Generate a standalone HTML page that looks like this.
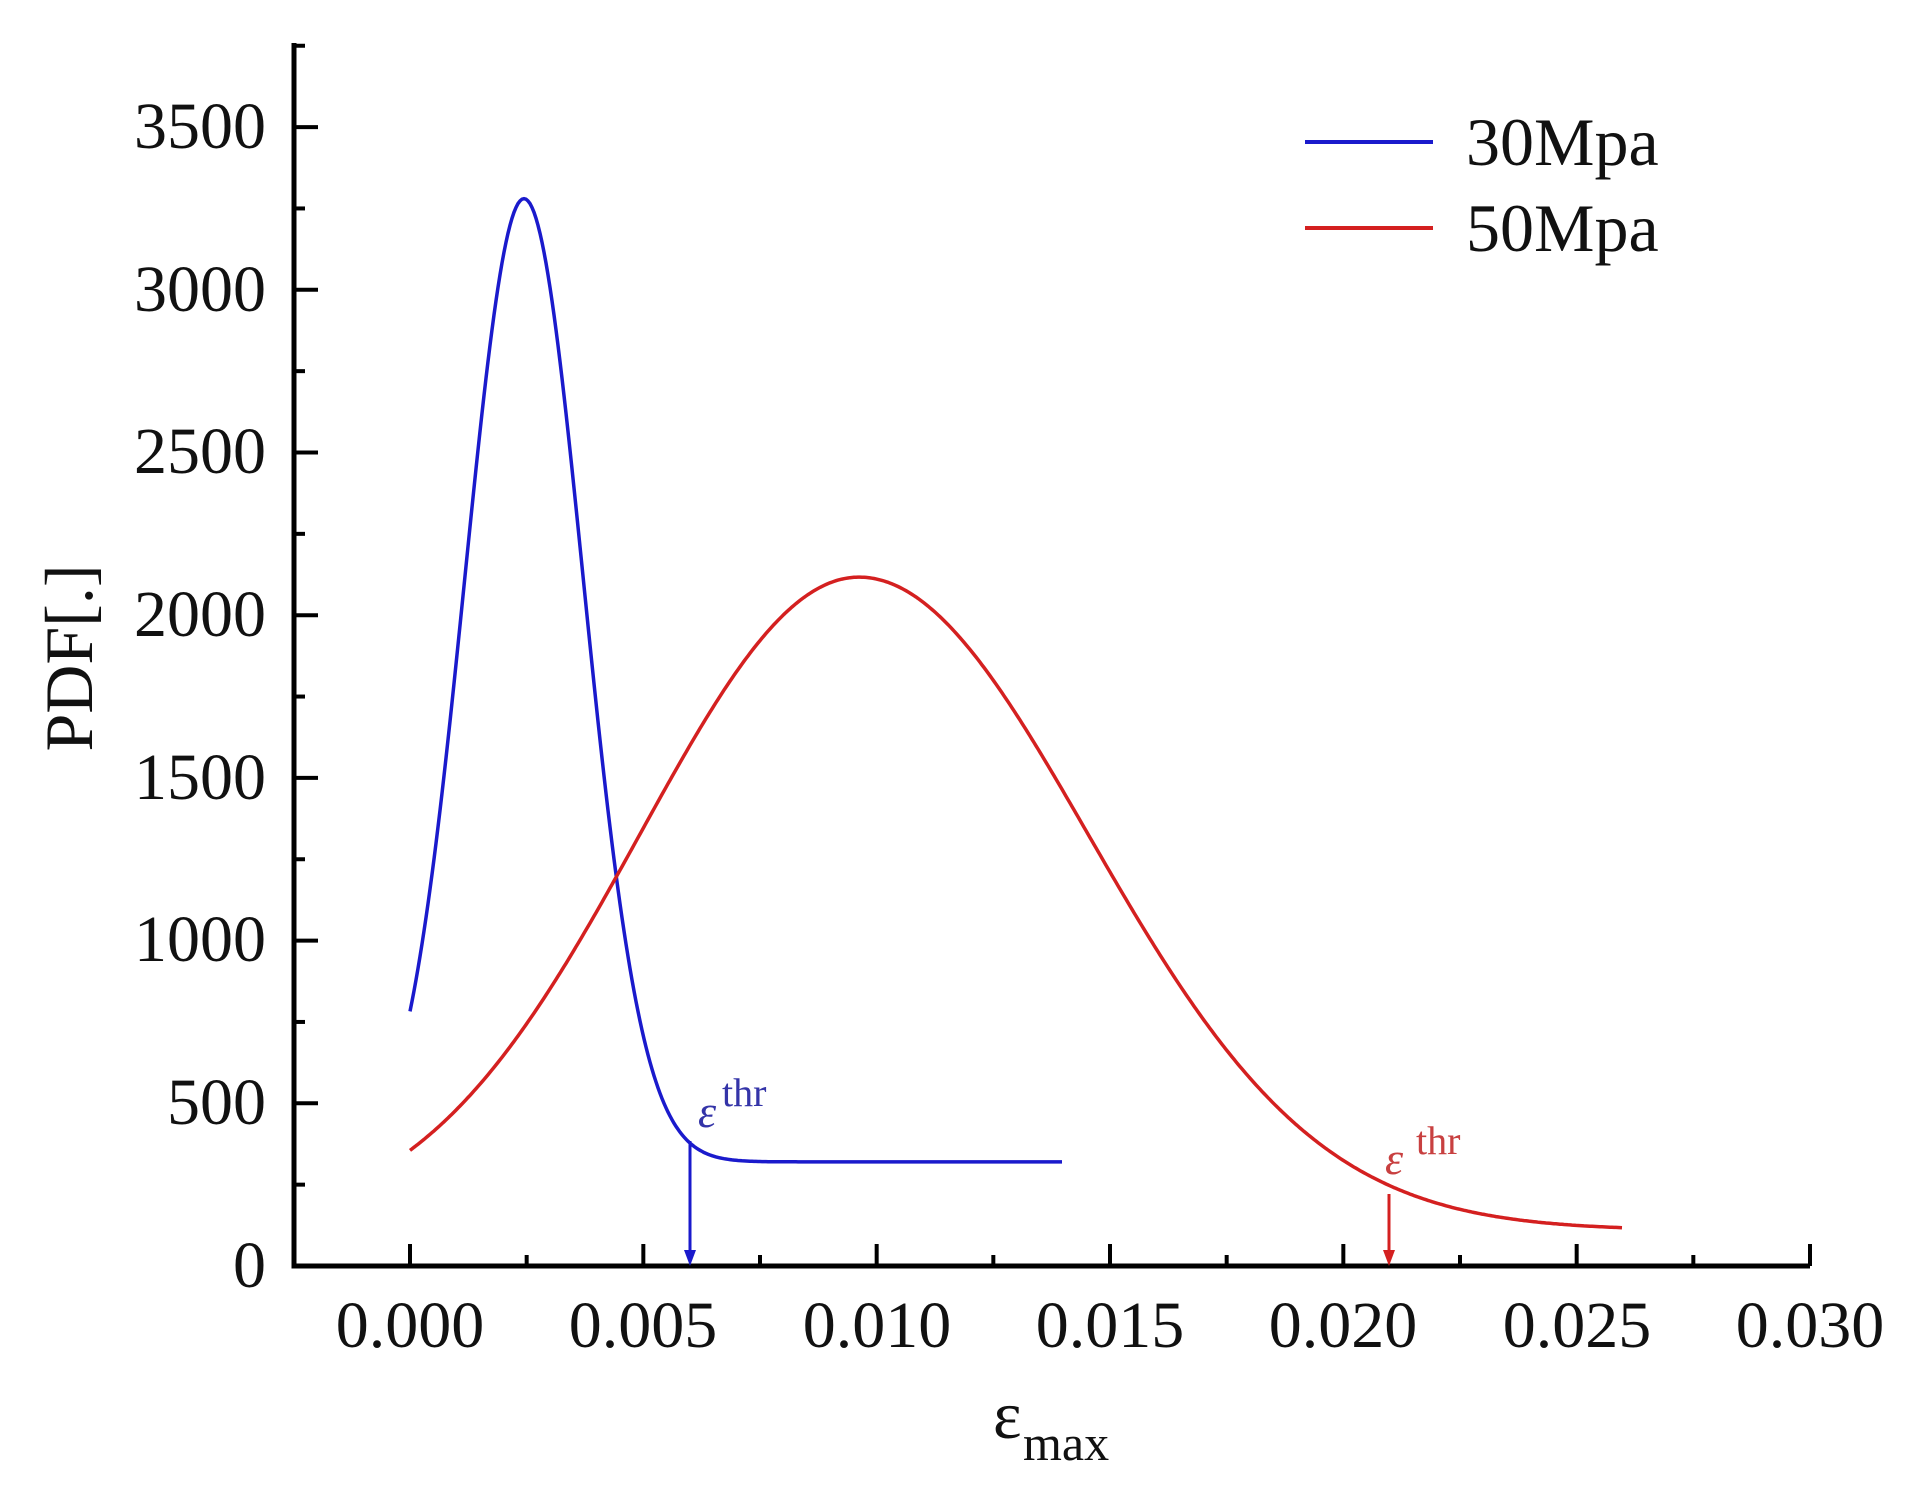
<!DOCTYPE html>
<html><head><meta charset="utf-8"><style>html,body{margin:0;padding:0;background:#fff}svg{display:block}</style></head>
<body>
<svg id="s" width="1920" height="1504" viewBox="0 0 1920 1504" xmlns="http://www.w3.org/2000/svg" font-family="Liberation Serif, serif">
<rect width="1920" height="1504" fill="#fff"/>
<g stroke="#000" stroke-width="5" fill="none">
<path d="M294 43 V1266 H1810"/>
</g>
<g id="ticks" stroke="#000" stroke-width="4"></g>
<g font-size="66" fill="#111" text-anchor="end">
<text x="266" y="1287">0</text>
<text x="266" y="1124">500</text>
<text x="266" y="961">1000</text>
<text x="266" y="799">1500</text>
<text x="266" y="636">2000</text>
<text x="266" y="473">2500</text>
<text x="266" y="311">3000</text>
<text x="266" y="148">3500</text>
</g>
<g font-size="66" fill="#111" text-anchor="middle">
<text x="410" y="1347">0.000</text>
<text x="643" y="1347">0.005</text>
<text x="877" y="1347">0.010</text>
<text x="1110" y="1347">0.015</text>
<text x="1343" y="1347">0.020</text>
<text x="1577" y="1347">0.025</text>
<text x="1810" y="1347">0.030</text>
</g>
<text x="993" y="1438" font-size="68" fill="#111">ε</text>
<text x="1023" y="1460" font-size="50" fill="#111">max</text>
<text transform="translate(92,658) rotate(-90)" font-size="68" fill="#111" text-anchor="middle">PDF[.]</text>
<line x1="1305" y1="142" x2="1433" y2="142" stroke="#1a1acc" stroke-width="4"/>
<line x1="1305" y1="228" x2="1433" y2="228" stroke="#d42020" stroke-width="4"/>
<text x="1466" y="165" font-size="68" fill="#111">30Mpa</text>
<text x="1466" y="251" font-size="68" fill="#111">50Mpa</text>
<path id="blue" fill="none" stroke="#1a1acc" stroke-width="3.5"/>
<path id="red" fill="none" stroke="#d42020" stroke-width="3.5"/>
<line x1="690" y1="1141" x2="690" y2="1255" stroke="#1a1acc" stroke-width="3"/>
<path d="M684 1250 L696 1250 L690 1266 Z" fill="#1a1acc"/>
<line x1="1389" y1="1194" x2="1389" y2="1255" stroke="#d42020" stroke-width="3"/>
<path d="M1383 1250 L1395 1250 L1389 1266 Z" fill="#d42020"/>
<text x="698" y="1127" font-size="46" font-style="italic" fill="#3434a8">ε</text>
<text x="722" y="1106" font-size="40" fill="#3434a8">thr</text>
<text x="1385" y="1174" font-size="46" font-style="italic" fill="#c84040">ε</text>
<text x="1416" y="1154" font-size="40" fill="#c84040">thr</text>
</svg>
<script>
(function(){
var t=document.getElementById('ticks'),h='';
for(var i=0;i<=12;i++){var x=410+i*116.667;var L=(i%2==0)?22:11;h+='<line x1="'+x+'" y1="1266" x2="'+x+'" y2="'+(1266-L)+'"/>';}
for(var j=1;j<=15;j++){var y=1266-j*81.35;var L=(j%2==0)?24:11;h+='<line x1="294" y1="'+y+'" x2="'+(294+L)+'" y2="'+y+'"/>';}
t.innerHTML=h;
var d='';
for(var x=410;x<=1063;x+=2){var y=1266-0.3254*(320+2960*Math.exp(-(x-524)*(x-524)/(2*3500)));d+=(x==410?'M':'L')+x+' '+y.toFixed(1)+' ';}
document.getElementById('blue').setAttribute('d',d);
var r='';
for(var x=410;x<=1622;x+=2){var dd=x-859;var s=dd<0?219:229;var y=1266-0.3254*(110+2007*Math.exp(-dd*dd/(2*s*s)));r+=(x==410?'M':'L')+x+' '+y.toFixed(1)+' ';}
document.getElementById('red').setAttribute('d',r);
})();
</script>
</body></html>
